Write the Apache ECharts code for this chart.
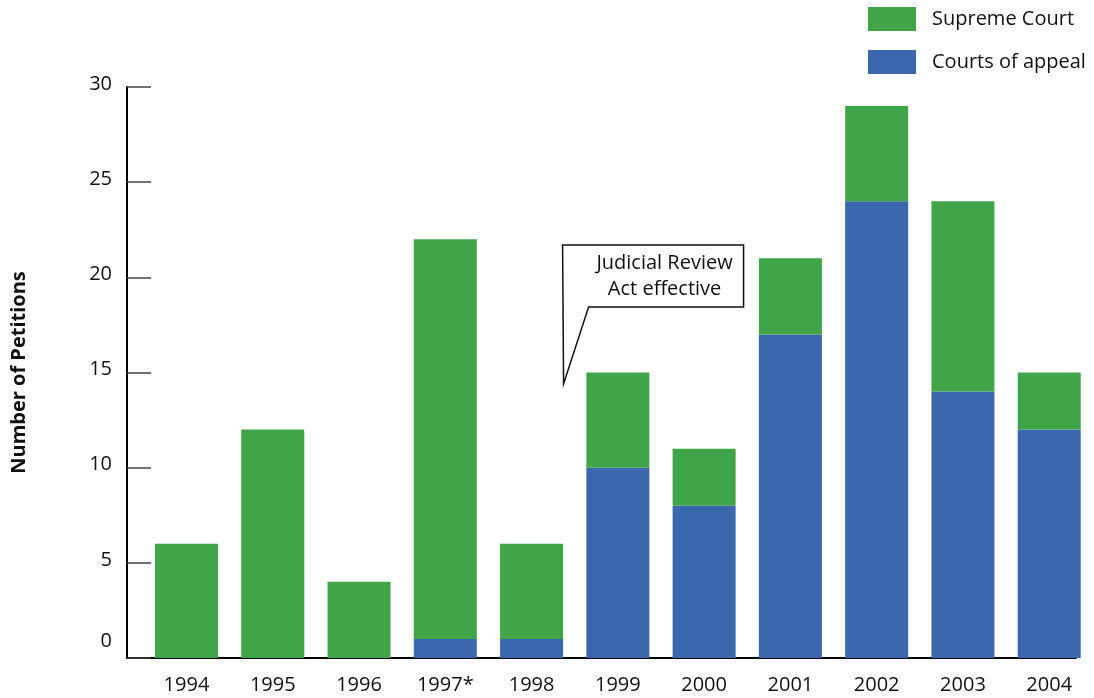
<!DOCTYPE html>
<html>
<head>
<meta charset="utf-8">
<script src="https://cdn.jsdelivr.net/npm/echarts@6/dist/echarts.min.js"></script>
<style>
html,body{margin:0;padding:0;background:#fff;}
#chart{width:1094px;height:698px;}
</style>
</head>
<body>
<div id="chart"></div>
<script>
var categories = ['1994','1995','1996','1997*','1998','1999','2000','2001','2002','2003','2004'];
var courtsOfAppeal = [0, 0, 0, 1, 1, 10, 8, 17, 24, 14, 12];
var supremeCourt = [6, 12, 4, 21, 5, 5, 3, 4, 5, 10, 3];
var yTicks = [0, 5, 10, 15, 20, 25, 30];
var annotationText = ['Judicial Review', 'Act effective'];
var annotationCategory = '1998';
var annotationValue = 14.4;

var FONT = '"Open Sans", sans-serif';
var GREEN = '#40a448';
var BLUE = '#3b68ad';

var chart = echarts.init(document.getElementById('chart'));
var option = {
  animation: false,
  backgroundColor: '#fff',
  textStyle: {fontFamily: FONT},
  grid: [
    {left: 143.35, right: 1.65, top: 87, bottom: 40, outerBoundsMode: 'none', containLabel: false},
    {left: 127, right: 18, top: 87, bottom: 40, outerBoundsMode: 'none', containLabel: false}
  ],
  legend: {
    orient: 'vertical',
    left: 868, top: 7,
    padding: 0,
    itemWidth: 48, itemHeight: 24, itemGap: 19,
    icon: 'rect',
    data: ['Supreme Court', 'Courts of appeal'],
    textStyle: {fontSize: 20, color: '#111', fontFamily: FONT, padding: [0, 0, 0, 11]}
  },
  xAxis: [
    {
      type: 'category', gridIndex: 0, data: categories,
      axisLine: {show: false}, axisTick: {show: false},
      axisLabel: {fontSize: 20, color: '#111', margin: 17, fontFamily: FONT}
    },
    {
      type: 'value', gridIndex: 1, min: 0, max: 1,
      axisLine: {show: true, lineStyle: {color: '#000', width: 2}},
      axisTick: {show: false}, axisLabel: {show: false}, splitLine: {show: false}
    }
  ],
  yAxis: [
    {
      type: 'value', gridIndex: 0, min: 0, max: 30, interval: 5,
      show: false, splitLine: {show: false}
    },
    {
      type: 'value', gridIndex: 1, min: 0, max: 30, interval: 5,
      name: 'Number of Petitions', nameLocation: 'middle', nameGap: 98,
      nameTextStyle: {fontSize: 20, fontWeight: 'bold', color: '#111', fontFamily: FONT},
      axisLine: {show: true, lineStyle: {color: '#000', width: 2}},
      axisTick: {show: true, inside: true, length: 24, lineStyle: {color: '#444', width: 1.5}},
      splitLine: {show: false},
      axisLabel: {
        fontSize: 20, color: '#111', margin: 15, fontFamily: FONT,
        formatter: function (v) {
          if (yTicks.indexOf(v) < 0) return '';
          return v === 0 ? '{z|0}' : '{n|' + v + '}';
        },
        rich: {
          z: {fontSize: 20, color: '#111', fontFamily: FONT, padding: [0, 0, 34, 0]},
          n: {fontSize: 20, color: '#111', fontFamily: FONT, padding: [0, 0, 6, 0]}
        }
      }
    }
  ],
  series: [
    {
      name: 'Courts of appeal', type: 'bar', stack: 'total',
      xAxisIndex: 0, yAxisIndex: 0, data: courtsOfAppeal,
      barWidth: 63, itemStyle: {color: BLUE}
    },
    {
      name: 'Supreme Court', type: 'bar', stack: 'total',
      xAxisIndex: 0, yAxisIndex: 0, data: supremeCourt,
      barWidth: 63, itemStyle: {color: GREEN}
    }
  ]
};
chart.setOption(option);

var p = chart.convertToPixel({xAxisIndex: 0, yAxisIndex: 0}, [annotationCategory, annotationValue]);
var ax = p[0] + 32, ay = p[1];
chart.setOption({
  graphic: [
    {
      type: 'polygon', z: 100,
      shape: {points: [[ax - 1, ay - 139], [ax + 180, ay - 139], [ax + 180, ay - 77], [ax + 25, ay - 77], [ax, ay]]},
      style: {fill: '#fff', stroke: '#111', lineWidth: 1.5}
    },
    {
      type: 'text', z: 101,
      x: ax + 101, y: ay - 108,
      style: {
        text: annotationText.join('\n'),
        fill: '#111', font: '20px ' + FONT, lineHeight: 26,
        align: 'center', verticalAlign: 'middle'
      }
    }
  ]
});
</script>
</body>
</html>
